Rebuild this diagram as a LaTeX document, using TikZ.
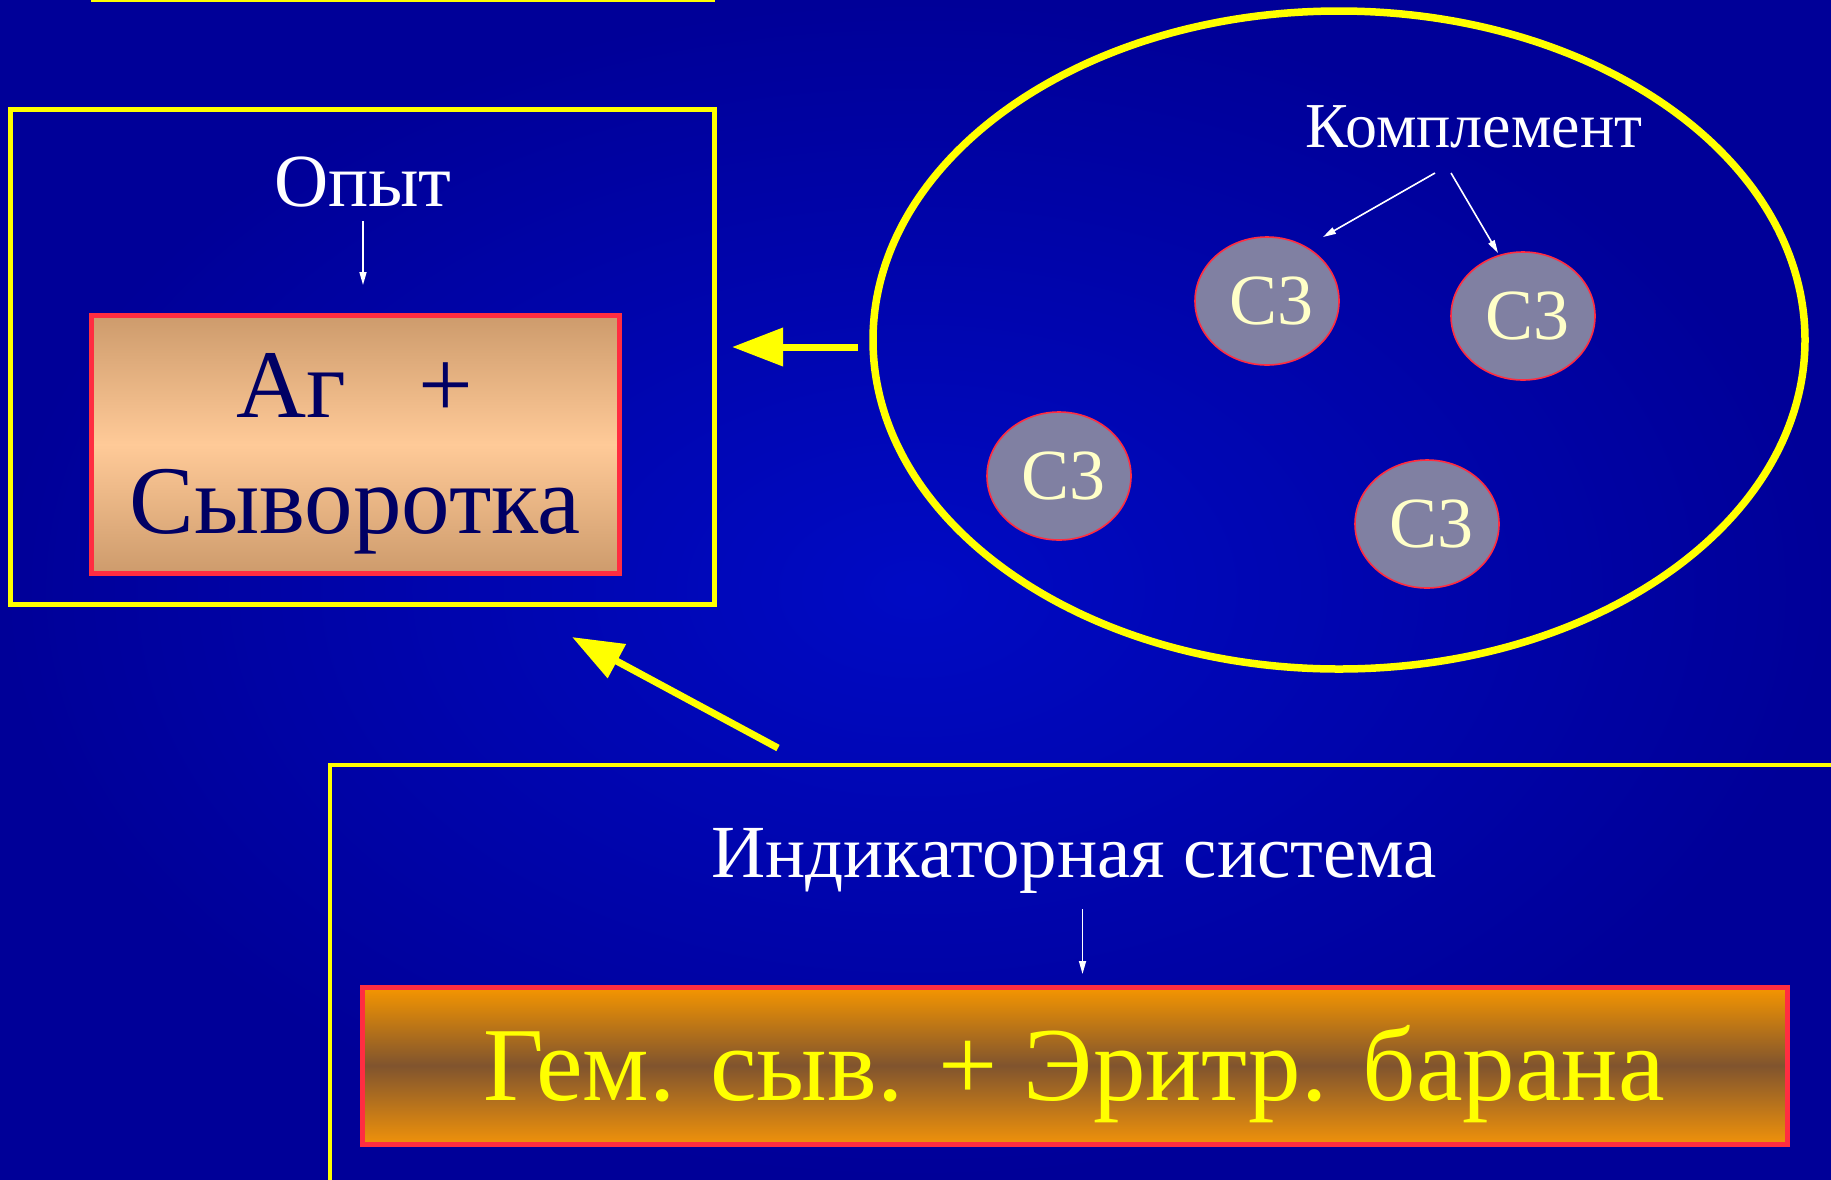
\documentclass[tikz,border=0pt]{standalone}
\usepackage{fontspec}
\setmainfont{Liberation Serif}
\usetikzlibrary{arrows.meta,shapes.geometric}
\definecolor{bgin}{RGB}{0,10,196}
\definecolor{bgout}{RGB}{0,0,152}
\definecolor{yel}{RGB}{255,255,0}
\definecolor{redb}{RGB}{255,45,65}
\definecolor{tanA}{RGB}{205,155,108}
\definecolor{tanB}{RGB}{255,202,152}
\definecolor{orA}{RGB}{246,150,0}
\definecolor{orB}{RGB}{128,84,46}
\definecolor{orC}{RGB}{240,146,10}
\definecolor{cfill}{RGB}{128,128,162}
\definecolor{cream}{RGB}{255,255,200}
\definecolor{navy}{RGB}{0,0,100}
\tikzset{
  ybox/.style={draw=yel, line width=5pt, inner sep=0pt},
  bigarrow/.style={draw=yel, line width=7pt, -{Triangle[length=51pt,width=37pt]}},
  thinarrow/.style={draw=white, line width=1.6pt, -{Triangle[length=13pt,width=7pt]}},
  c3/.style={ellipse, draw=redb, line width=1.6pt, fill=cfill, minimum width=144pt, minimum height=128pt, inner sep=0pt,
             font=\fontsize{72}{80}\selectfont, text=cream},
  wtxt/.style={text=white, inner sep=0pt, anchor=base},
}
\begin{document}
\begin{tikzpicture}[x=1pt,y=-1pt]
\shade[inner color=bgin, outer color=bgout] (0,0) rectangle (1831,1179);
\useasboundingbox (0,0) rectangle (1831,1179);
\clip (0,0) rectangle (1831,1179);

% partial top line
\coordinate (tl1) at (91,0);
\coordinate (tl2) at (715,0);
\draw[yel, line width=3pt] (tl1) -- (tl2);

% experiment box
\node[ybox, minimum width=704pt, minimum height=495pt] (opytbox) at (362.5,357) {};
\node[wtxt, font=\fontsize{75}{90}\selectfont] (opyt) at (363,206) {Опыт};
\coordinate (oa1) at (363,221);
\coordinate (oa2) at (363,285);
\draw[thinarrow] (oa1) -- (oa2);

\node[draw=redb, line width=5pt, top color=tanA, bottom color=tanA, middle color=tanB,
      minimum width=528pt, minimum height=258pt, inner sep=0pt] (agbox) at (355,444.5) {};
\node[inner sep=0pt, anchor=base, text=navy, font=\fontsize{97}{118}\selectfont] (ag1) at (355,417) {Аг\ \ \ +};
\node[inner sep=0pt, anchor=base, text=navy, font=\fontsize{97}{118}\selectfont] (ag2) at (355,533) {Сыворотка};

% complement ellipse
\node[ellipse, draw=yel, line width=7.5pt, minimum width=932pt, minimum height=658pt, inner sep=0pt] (compl) at (1339,340) {};
\node[wtxt, font=\fontsize{64}{76}\selectfont] (kompl) at (1474,147) {Комплемент};
\node[c3] (c3a) at (1267,301) {\hspace{8pt}С3};
\node[c3] (c3b) at (1523,316) {\hspace{8pt}С3};
\node[c3] (c3c) at (1059,476) {\hspace{8pt}С3};
\node[c3] (c3d) at (1427,524) {\hspace{8pt}С3};
\coordinate (ka1) at (1435,173);
\coordinate (ka2) at (1323,237);
\coordinate (kb1) at (1451,173);
\coordinate (kb2) at (1498,253);
\draw[thinarrow] (ka1) -- (ka2);
\draw[thinarrow] (kb1) -- (kb2);

% big yellow arrows
\coordinate (la1) at (858,347);
\coordinate (la2) at (732,347);
\draw[bigarrow] (la1) -- (la2);
\coordinate (da1) at (778,748);
\coordinate (da2) at (572,637);
\draw[bigarrow] (da1) -- (da2);

% indicator system box (cut by the edges)
\coordinate (ib1) at (1840,765);
\coordinate (ib2) at (330,765);
\coordinate (ib3) at (330,1190);
\draw[yel, line width=4pt] (ib1) -- (ib2) -- (ib3);
\node[wtxt, font=\fontsize{75}{90}\selectfont] (ind) at (1074,877) {Индикаторная система};
\coordinate (ia1) at (1082.5,909);
\coordinate (ia2) at (1082.5,974);
\draw[thinarrow] (ia1) -- (ia2);

\node[draw=redb, line width=5pt, top color=orA, bottom color=orC, middle color=orB,
      minimum width=1425pt, minimum height=157pt, inner sep=0pt] (gembox) at (1074.5,1065.5) {};
\node[inner sep=0pt, anchor=base, text=yel, font=\fontsize{105}{120}\selectfont] (gem) at (1074,1100) {Гем. сыв. + Эритр. барана};
\end{tikzpicture}
\end{document}
